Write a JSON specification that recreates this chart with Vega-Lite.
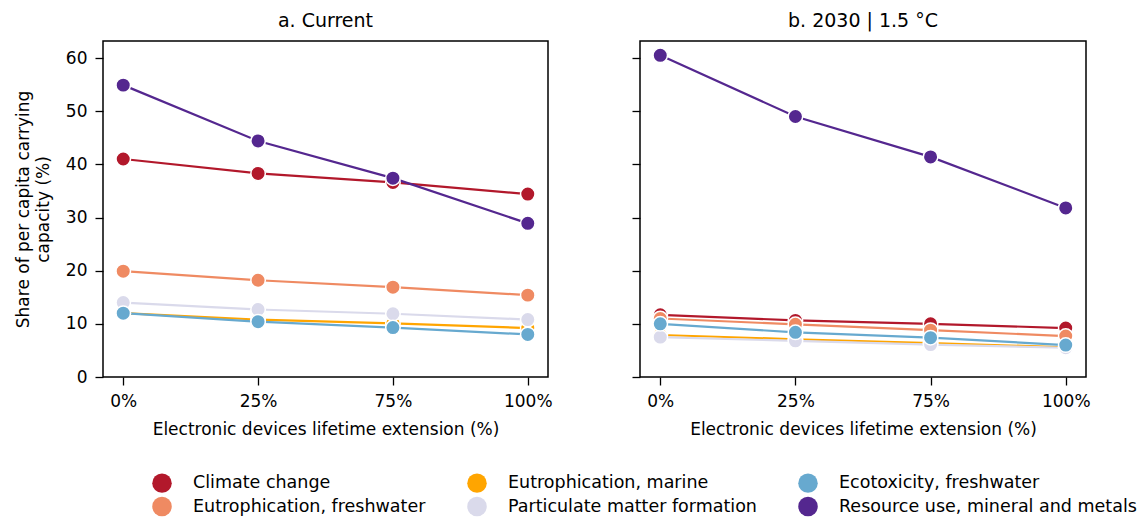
{
  "$schema": "https://vega.github.io/schema/vega-lite/v6.json",
  "background": "white",
  "padding": {"left": 13, "top": 11, "right": 0, "bottom": 0},
  "config": {
    "font": "DejaVu Sans",
    "view": {"stroke": "black", "strokeWidth": 1.5},
    "axis": {"domain": false, "grid": false, "tickColor": "black", "tickWidth": 1.3, "tickSize": 8, "labelColor": "black", "labelFontSize": 17, "titleFontSize": 17, "titleFontWeight": "normal", "titleColor": "black", "labelPadding": 8},
    "title": {"fontSize": 19, "fontWeight": "normal", "color": "black", "offset": 10},
    "legend": {"labelFontSize": 17.5, "labelColor": "black"}
  },
  "data": {"values": [
    {"panel": "a", "ext": "0%", "series": "Climate change", "value": 41.0},
    {"panel": "a", "ext": "25%", "series": "Climate change", "value": 38.3},
    {"panel": "a", "ext": "75%", "series": "Climate change", "value": 36.6},
    {"panel": "a", "ext": "100%", "series": "Climate change", "value": 34.4},
    {"panel": "a", "ext": "0%", "series": "Eutrophication, freshwater", "value": 19.9},
    {"panel": "a", "ext": "25%", "series": "Eutrophication, freshwater", "value": 18.2},
    {"panel": "a", "ext": "75%", "series": "Eutrophication, freshwater", "value": 16.9},
    {"panel": "a", "ext": "100%", "series": "Eutrophication, freshwater", "value": 15.4},
    {"panel": "a", "ext": "0%", "series": "Eutrophication, marine", "value": 12.0},
    {"panel": "a", "ext": "25%", "series": "Eutrophication, marine", "value": 10.8},
    {"panel": "a", "ext": "75%", "series": "Eutrophication, marine", "value": 10.1},
    {"panel": "a", "ext": "100%", "series": "Eutrophication, marine", "value": 9.2},
    {"panel": "a", "ext": "0%", "series": "Particulate matter formation", "value": 14.0},
    {"panel": "a", "ext": "25%", "series": "Particulate matter formation", "value": 12.7},
    {"panel": "a", "ext": "75%", "series": "Particulate matter formation", "value": 11.9},
    {"panel": "a", "ext": "100%", "series": "Particulate matter formation", "value": 10.8},
    {"panel": "a", "ext": "0%", "series": "Ecotoxicity, freshwater", "value": 12.0},
    {"panel": "a", "ext": "25%", "series": "Ecotoxicity, freshwater", "value": 10.4},
    {"panel": "a", "ext": "75%", "series": "Ecotoxicity, freshwater", "value": 9.3},
    {"panel": "a", "ext": "100%", "series": "Ecotoxicity, freshwater", "value": 8.0},
    {"panel": "a", "ext": "0%", "series": "Resource use, mineral and metals", "value": 54.9},
    {"panel": "a", "ext": "25%", "series": "Resource use, mineral and metals", "value": 44.4},
    {"panel": "a", "ext": "75%", "series": "Resource use, mineral and metals", "value": 37.4},
    {"panel": "a", "ext": "100%", "series": "Resource use, mineral and metals", "value": 28.9},
    {"panel": "b", "ext": "0%", "series": "Climate change", "value": 11.7},
    {"panel": "b", "ext": "25%", "series": "Climate change", "value": 10.65},
    {"panel": "b", "ext": "75%", "series": "Climate change", "value": 10.0},
    {"panel": "b", "ext": "100%", "series": "Climate change", "value": 9.2},
    {"panel": "b", "ext": "0%", "series": "Eutrophication, freshwater", "value": 11.0},
    {"panel": "b", "ext": "25%", "series": "Eutrophication, freshwater", "value": 9.9},
    {"panel": "b", "ext": "75%", "series": "Eutrophication, freshwater", "value": 8.8},
    {"panel": "b", "ext": "100%", "series": "Eutrophication, freshwater", "value": 7.7},
    {"panel": "b", "ext": "0%", "series": "Eutrophication, marine", "value": 7.9},
    {"panel": "b", "ext": "25%", "series": "Eutrophication, marine", "value": 7.1},
    {"panel": "b", "ext": "75%", "series": "Eutrophication, marine", "value": 6.4},
    {"panel": "b", "ext": "100%", "series": "Eutrophication, marine", "value": 5.6},
    {"panel": "b", "ext": "0%", "series": "Particulate matter formation", "value": 7.5},
    {"panel": "b", "ext": "25%", "series": "Particulate matter formation", "value": 6.8},
    {"panel": "b", "ext": "75%", "series": "Particulate matter formation", "value": 6.1},
    {"panel": "b", "ext": "100%", "series": "Particulate matter formation", "value": 5.5},
    {"panel": "b", "ext": "0%", "series": "Ecotoxicity, freshwater", "value": 10.0},
    {"panel": "b", "ext": "25%", "series": "Ecotoxicity, freshwater", "value": 8.4},
    {"panel": "b", "ext": "75%", "series": "Ecotoxicity, freshwater", "value": 7.4},
    {"panel": "b", "ext": "100%", "series": "Ecotoxicity, freshwater", "value": 6.0},
    {"panel": "b", "ext": "0%", "series": "Resource use, mineral and metals", "value": 60.5},
    {"panel": "b", "ext": "25%", "series": "Resource use, mineral and metals", "value": 49.0},
    {"panel": "b", "ext": "75%", "series": "Resource use, mineral and metals", "value": 41.4},
    {"panel": "b", "ext": "100%", "series": "Resource use, mineral and metals", "value": 31.8}
  ]},
  "spacing": 77,
  "resolve": {"scale": {"color": "shared"}},
  "hconcat": [
    {
      "width": 445,
      "height": 336,
      "title": "a. Current",
      "transform": [{"filter": "datum.panel === 'a'"}],
      "encoding": {
        "x": {"field": "ext", "type": "ordinal", "sort": ["0%", "25%", "75%", "100%"], "scale": {"type": "point", "padding": 0.15}, "axis": {"labelAngle": 0, "title": "Electronic devices lifetime extension (%)", "titlePadding": 12}},
        "y": {"field": "value", "type": "quantitative", "scale": {"domain": [0, 63.2], "nice": false, "zero": true}, "axis": {"values": [0, 10, 20, 30, 40, 50, 60], "title": ["Share of per capita carrying", "capacity (%)"], "titlePadding": 13, "titleLineHeight": 20}},
        "color": {"field": "series", "type": "nominal",
          "scale": {"domain": ["Climate change", "Eutrophication, marine", "Ecotoxicity, freshwater", "Eutrophication, freshwater", "Particulate matter formation", "Resource use, mineral and metals"],
                    "range": ["#b2182b", "#ffa500", "#67a9cf", "#ef8a62", "#dadaeb", "#54278f"]},
          "legend": {"orient": "none", "legendX": 49, "legendY": 432, "direction": "horizontal", "columns": 3, "title": null, "padding": 0, "symbolType": "circle", "symbolSize": 380, "symbolStrokeWidth": 0, "symbolOpacity": 1, "labelOffset": 21, "labelLimit": 400, "columnPadding": 41, "rowPadding": 3.5}}
      },
      "layer": [
        {"mark": {"type": "line", "strokeWidth": 2.2}, "encoding": {"detail": {"field": "series"}}},
        {"mark": {"type": "point", "filled": true, "opacity": 1, "size": 210, "stroke": "white", "strokeWidth": 1.5}, "encoding": {"stroke": {"value": "white"}}}
      ]
    },
    {
      "width": 446,
      "height": 336,
      "title": "b. 2030 | 1.5 °C",
      "transform": [{"filter": "datum.panel === 'b'"}],
      "encoding": {
        "x": {"field": "ext", "type": "ordinal", "sort": ["0%", "25%", "75%", "100%"], "scale": {"type": "point", "padding": 0.15}, "axis": {"labelAngle": 0, "title": "Electronic devices lifetime extension (%)", "titlePadding": 12}},
        "y": {"field": "value", "type": "quantitative", "scale": {"domain": [0, 63.2], "nice": false, "zero": true}, "axis": {"values": [0, 10, 20, 30, 40, 50, 60], "labels": false, "title": null}},
        "color": {"field": "series", "type": "nominal"}
      },
      "layer": [
        {"mark": {"type": "line", "strokeWidth": 2.2}, "encoding": {"detail": {"field": "series"}}},
        {"mark": {"type": "point", "filled": true, "opacity": 1, "size": 210, "stroke": "white", "strokeWidth": 1.5}, "encoding": {"stroke": {"value": "white"}}}
      ]
    }
  ]
}
